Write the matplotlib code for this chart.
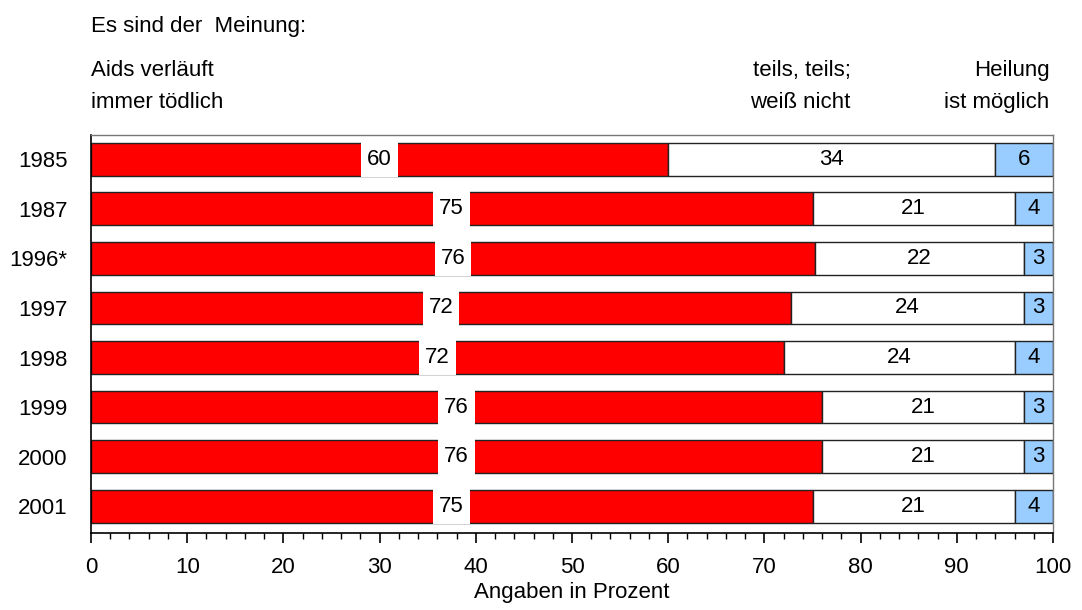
import matplotlib
matplotlib.use("Agg")
from matplotlib import pyplot as plt
from matplotlib.ticker import MultipleLocator

plt.rcParams["font.family"] = ["Liberation Sans", "DejaVu Sans"]

jahre = ["1985", "1987", "1996*", "1997", "1998", "1999", "2000", "2001"]
toedlich = [60, 75, 76, 72, 72, 76, 76, 75]
teils = [34, 21, 22, 24, 24, 21, 21, 21]
heilung = [6, 4, 3, 3, 4, 3, 3, 4]

fs = 16

# Anteile auf 100 % je Jahr hochrechnen (gerundete Werte ergeben nicht immer 100)
summe = [a + b + c for a, b, c in zip(toedlich, teils, heilung)]
r = [a * 100 / s for a, s in zip(toedlich, summe)]
w = [b * 100 / s for b, s in zip(teils, summe)]
bl = [c * 100 / s for c, s in zip(heilung, summe)]
links2 = [a + b for a, b in zip(r, w)]

fig = plt.figure(figsize=(10.82, 6.10), dpi=100)
ax = fig.add_axes([0.0841, 0.1262, 0.8891, 0.6525])

y = list(range(len(jahre)))
h = 0.66

ax.barh(y, r, height=h, color="#ff0000", edgecolor="#222222", linewidth=1, zorder=2)
ax.barh(y, w, left=r, height=h, color="white", edgecolor="#222222", linewidth=1, zorder=2)
ax.barh(y, bl, left=links2, height=h, color="#99ccff", edgecolor="#222222", linewidth=1, zorder=2)

# Wert der roten Balken in einer Lücke in der Balkenmitte
for i, (v, lab) in enumerate(zip(r, toedlich)):
    ax.barh(i, 3.8, left=v / 2 - 1.9, height=h + 0.06, color="white", linewidth=0, zorder=3)
    ax.text(v / 2, i, str(lab), ha="center", va="center", fontsize=fs, zorder=4)

for i, (a, b, lab) in enumerate(zip(r, w, teils)):
    ax.text(a + b / 2, i, str(lab), ha="center", va="center", fontsize=fs, zorder=4)

for i, (a, c, lab) in enumerate(zip(links2, bl, heilung)):
    ax.text(a + c / 2, i, str(lab), ha="center", va="center", fontsize=fs, zorder=4)

ax.set_xlim(0, 100)
ax.set_ylim(7.54, -0.49)
ax.set_yticks(y)
ax.set_yticklabels(jahre, fontsize=fs)
ax.tick_params(axis="y", length=0, pad=17)
ax.xaxis.set_major_locator(MultipleLocator(10))
ax.xaxis.set_minor_locator(MultipleLocator(2))
ax.tick_params(axis="x", which="major", length=7, width=1.2, labelsize=fs, pad=10)
ax.tick_params(axis="x", which="minor", length=4, width=1)
ax.set_xlabel("Angaben in Prozent", fontsize=fs, labelpad=3)

for s in ["left", "bottom"]:
    ax.spines[s].set_color("black")
    ax.spines[s].set_linewidth(1.2)
for s in ["top", "right"]:
    ax.spines[s].set_color("#777777")
    ax.spines[s].set_linewidth(1)

fig.text(0.0841, 0.957, "Es sind der  Meinung:", fontsize=fs, va="center")
fig.text(0.0841, 0.885, "Aids verläuft", fontsize=fs, va="center")
fig.text(0.0841, 0.832, "immer tödlich", fontsize=fs, va="center")
fig.text(0.786, 0.885, "teils, teils;", fontsize=fs, va="center", ha="right")
fig.text(0.786, 0.832, "weiß nicht", fontsize=fs, va="center", ha="right")
fig.text(0.970, 0.885, "Heilung", fontsize=fs, va="center", ha="right")
fig.text(0.970, 0.832, "ist möglich", fontsize=fs, va="center", ha="right")

fig.savefig("out.png", dpi=100)
